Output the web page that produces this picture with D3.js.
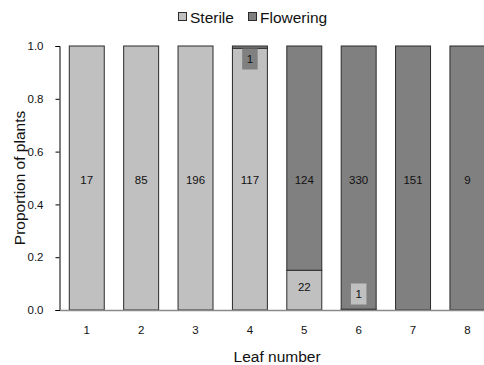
<!DOCTYPE html>
<html>
<head>
<meta charset="utf-8">
<script src="https://cdn.jsdelivr.net/npm/d3@7"></script>
<style>
  html, body { margin: 0; padding: 0; background: #fff; }
  svg { display: block; font-family: "Liberation Sans", Arial, sans-serif; }
</style>
</head>
<body>
<svg id="chart" width="484" height="365"></svg>
<script>
// Leaf number categories and plant counts per category
const leaves = ["1", "2", "3", "4", "5", "6", "7", "8"];
const sterile = [17, 85, 196, 117, 22, 1, 0, 0];
const flowering = [0, 0, 0, 1, 124, 330, 151, 9];
const seriesNames = ["Sterile", "Flowering"];
const yTicks = [0, 0.2, 0.4, 0.6, 0.8, 1.0];

const colors = { Sterile: "#c0c0c0", Flowering: "#808080" };
const FONT = "'Liberation Sans', Arial, sans-serif";

const svg = d3.select("#chart");
const plot = { left: 59.5, right: 494.7, top: 46, bottom: 310 };

const x = d3.scaleBand().domain(leaves).range([plot.left, plot.right]).paddingInner(0.357).paddingOuter(0.18);
const y = d3.scaleLinear().domain([0, 1]).range([plot.bottom, plot.top]);

// Rows of proportions for the 100% stack
const rows = leaves.map((leaf, i) => {
  const total = sterile[i] + flowering[i];
  return { leaf, Sterile: sterile[i] / total, Flowering: flowering[i] / total,
           nSterile: sterile[i], nFlowering: flowering[i] };
});
const stacked = d3.stack().keys(seriesNames)(rows);

// Bars
const g = svg.append("g");
stacked.forEach(layer => {
  g.selectAll(null)
    .data(layer.filter(d => d[1] - d[0] > 0))
    .join("rect")
    .attr("x", d => x(d.data.leaf))
    .attr("width", x.bandwidth())
    .attr("y", d => y(d[1]))
    .attr("height", d => y(d[0]) - y(d[1]))
    .attr("fill", colors[layer.key])
    .attr("stroke", "#2b2b2b")
    .attr("stroke-width", 1);
});

// Count labels, each on a box filled with its series colour.
// A segment spanning the mid-line gets its label there; small ones are kept inside the bar.
const labelG = svg.append("g").attr("font-size", 11.5).attr("fill", "#111").attr("font-family", FONT);
stacked.forEach(layer => {
  const count = layer.key === "Sterile" ? "nSterile" : "nFlowering";
  layer.filter(d => d.data[count] > 0).forEach(d => {
    const top = y(d[1]), bot = y(d[0]);
    const pad = 13;
    let cy;
    if (d[0] <= 0.5 && d[1] >= 0.5) cy = y(0.5) + 2;
    else cy = Math.max(plot.top + pad, Math.min(plot.bottom - pad - 3, (top + bot) / 2 - 3));
    const cx = x(d.data.leaf) + x.bandwidth() / 2;
    const txt = String(d.data[count]);
    const bw = txt.length * 6.5 + 9, bh = 21;
    labelG.append("rect")
      .attr("x", cx - bw / 2).attr("y", cy - bh / 2)
      .attr("width", bw).attr("height", bh)
      .attr("fill", colors[layer.key]);
    labelG.append("text")
      .attr("x", cx).attr("y", cy)
      .attr("text-anchor", "middle")
      .attr("dominant-baseline", "central")
      .text(txt);
  });
});

// Y axis
const yAxis = svg.append("g")
  .attr("transform", `translate(${plot.left},0)`)
  .call(d3.axisLeft(y).tickValues(yTicks).tickFormat(d3.format(".1f")).tickSize(4).tickPadding(12));
yAxis.select(".domain").attr("stroke", "#000");
yAxis.selectAll(".tick line").attr("stroke", "#000");
yAxis.selectAll("text").attr("font-size", 11.5).attr("fill", "#111").attr("font-family", FONT);

// X axis
const xAxis = svg.append("g")
  .attr("transform", `translate(0,${plot.bottom})`)
  .call(d3.axisBottom(x).tickSize(0).tickPadding(16));
xAxis.select(".domain").attr("stroke", "#8a8a8a").attr("stroke-width", 1.5);
xAxis.selectAll("text").attr("font-size", 11.5).attr("fill", "#111").attr("font-family", FONT);

// Axis titles
svg.append("text")
  .attr("x", (plot.left + plot.right) / 2).attr("y", 356)
  .attr("text-anchor", "middle").attr("dominant-baseline", "central")
  .attr("font-size", 15.5).attr("fill", "#111").attr("font-family", FONT)
  .text("Leaf number");
svg.append("text")
  .attr("transform", `translate(19,${(plot.top + plot.bottom) / 2}) rotate(-90)`)
  .attr("text-anchor", "middle").attr("dominant-baseline", "central")
  .attr("font-size", 15.5).attr("fill", "#111").attr("font-family", FONT)
  .text("Proportion of plants");

// Legend
const legend = svg.append("g").attr("font-size", 15.5).attr("fill", "#111").attr("font-family", FONT);
const legendItems = [{ name: "Sterile", x: 178 }, { name: "Flowering", x: 248 }];
legendItems.forEach(item => {
  legend.append("rect")
    .attr("x", item.x + 0.5).attr("y", 12.5).attr("width", 8).attr("height", 8)
    .attr("fill", colors[item.name]).attr("stroke", "#2b2b2b");
  legend.append("text")
    .attr("x", item.x + 12).attr("y", 17)
    .attr("dominant-baseline", "central")
    .text(item.name);
});
</script>
</body>
</html>
